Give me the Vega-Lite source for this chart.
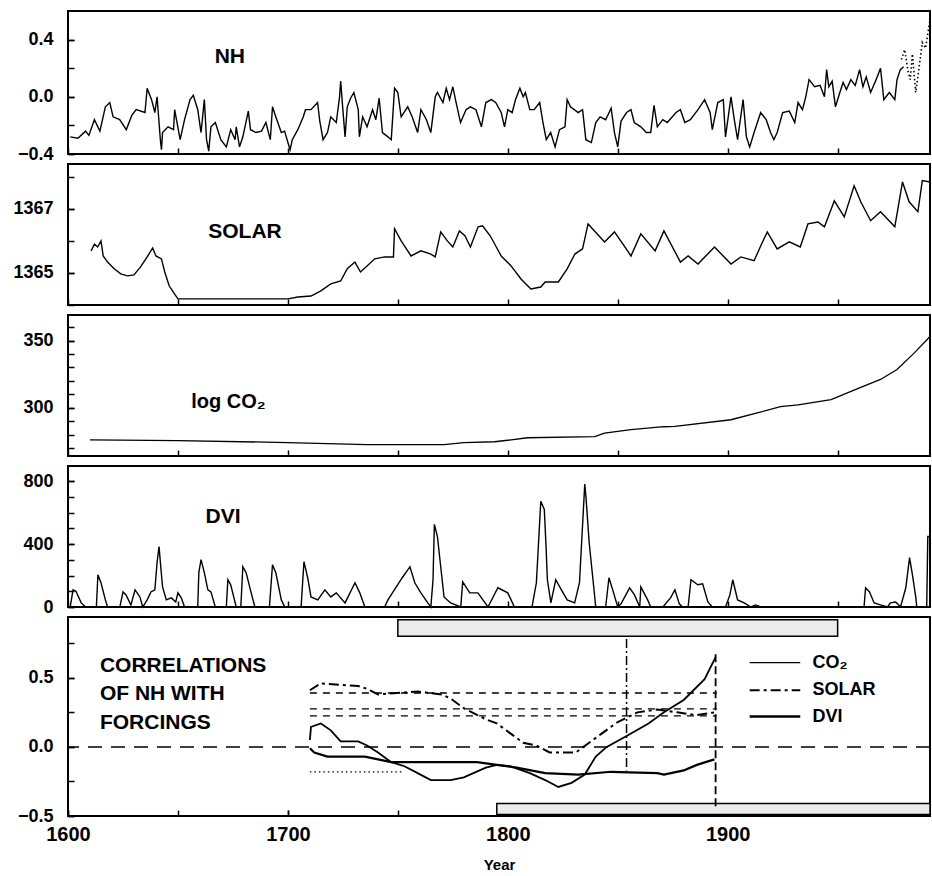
{
 "$schema": "https://vega.github.io/schema/vega-lite/v6.json",
 "background": "white",
 "padding": {"left": 11, "top": 10, "right": 0, "bottom": 0},
 "autosize": {"type": "pad"},
 "bounds": "flush",
 "spacing": 10,
 "config": {
  "font": "Liberation Sans",
  "view": {"stroke": "black", "strokeWidth": 2},
  "axis": {"domain": false, "grid": false, "ticks": true, "tickColor": "black", "tickWidth": 1.5, "tickSize": -6, "tickCount": 30, "labelColor": "black", "labelFont": "Liberation Sans", "labelFontWeight": "bold", "labelFontSize": 18, "labelPadding": 21, "labelFlush": false, "labelOverlap": false},
  "line": {"color": "black", "clip": true},
  "rule": {"color": "black"},
  "text": {"color": "black", "font": "Liberation Sans", "fontWeight": "bold"}
 },
 "datasets": {
  "nh": [
   {"year":1601,"value":-0.28},{"year":1604.5,"value":-0.29},{"year":1608,"value":-0.24},{"year":1609.5,"value":-0.27},{"year":1612,"value":-0.16},{"year":1614.5,"value":-0.24},{"year":1617,"value":-0.07},{"year":1619,"value":-0.04},{"year":1620.5,"value":-0.14},{"year":1623.5,"value":-0.16},{"year":1626.5,"value":-0.23},{"year":1629,"value":-0.13},{"year":1631,"value":-0.09},{"year":1635,"value":-0.11},{"year":1636,"value":0.06},{"year":1638,"value":-0.02},{"year":1639.5,"value":-0.11},{"year":1640.5,"value":0.0},{"year":1642,"value":-0.30},{"year":1642.5,"value":-0.37},{"year":1643,"value":-0.25},{"year":1645.5,"value":-0.21},{"year":1648,"value":-0.23},{"year":1648.5,"value":-0.09},{"year":1651,"value":-0.30},{"year":1653,"value":-0.16},{"year":1655.5,"value":-0.02},{"year":1657,"value":0.01},{"year":1659,"value":-0.09},{"year":1660.5,"value":-0.25},{"year":1662,"value":-0.02},{"year":1663,"value":-0.30},{"year":1664,"value":-0.38},{"year":1665,"value":-0.21},{"year":1667,"value":-0.18},{"year":1669.5,"value":-0.30},{"year":1672,"value":-0.35},{"year":1674,"value":-0.23},{"year":1676,"value":-0.30},{"year":1676.5,"value":-0.21},{"year":1678,"value":-0.35},{"year":1679.5,"value":-0.28},{"year":1682,"value":-0.10},{"year":1683,"value":-0.23},{"year":1685.5,"value":-0.25},{"year":1688,"value":-0.24},{"year":1690,"value":-0.18},{"year":1692,"value":-0.30},{"year":1693,"value":-0.07},{"year":1694.5,"value":-0.14},{"year":1697,"value":-0.25},{"year":1698.5,"value":-0.24},{"year":1700,"value":-0.32},{"year":1701,"value":-0.37},{"year":1702,"value":-0.30},{"year":1704.5,"value":-0.23},{"year":1707,"value":-0.14},{"year":1708,"value":-0.09},{"year":1710.5,"value":-0.09},{"year":1713.5,"value":-0.04},{"year":1714.5,"value":-0.17},{"year":1716,"value":-0.30},{"year":1718,"value":-0.25},{"year":1719.5,"value":-0.14},{"year":1722,"value":-0.18},{"year":1723.5,"value":0.0},{"year":1724,"value":0.11},{"year":1725,"value":-0.09},{"year":1726,"value":-0.28},{"year":1727,"value":-0.07},{"year":1728.5,"value":-0.01},{"year":1730,"value":0.03},{"year":1732,"value":-0.09},{"year":1732.5,"value":-0.28},{"year":1734,"value":-0.14},{"year":1736,"value":-0.21},{"year":1738.5,"value":-0.09},{"year":1740,"value":-0.16},{"year":1741.5,"value":-0.01},{"year":1743,"value":-0.25},{"year":1745.5,"value":-0.28},{"year":1747,"value":-0.30},{"year":1748.5,"value":0.06},{"year":1750,"value":0.03},{"year":1751.5,"value":-0.14},{"year":1754.5,"value":-0.07},{"year":1756.5,"value":-0.14},{"year":1759,"value":-0.25},{"year":1760.5,"value":-0.09},{"year":1763,"value":-0.16},{"year":1765,"value":-0.25},{"year":1767,"value":0.0},{"year":1768,"value":0.03},{"year":1770.5,"value":-0.04},{"year":1772,"value":0.06},{"year":1773.5,"value":-0.02},{"year":1775,"value":0.07},{"year":1776.5,"value":-0.04},{"year":1778.5,"value":-0.18},{"year":1781,"value":-0.09},{"year":1783,"value":-0.07},{"year":1785.5,"value":-0.09},{"year":1788,"value":-0.21},{"year":1790,"value":-0.04},{"year":1792.5,"value":-0.02},{"year":1794.5,"value":-0.04},{"year":1797,"value":-0.11},{"year":1798.5,"value":-0.21},{"year":1800,"value":-0.09},{"year":1802,"value":-0.11},{"year":1803.5,"value":-0.02},{"year":1805.5,"value":0.06},{"year":1807,"value":0.0},{"year":1808,"value":0.03},{"year":1810,"value":-0.09},{"year":1812,"value":-0.09},{"year":1814.5,"value":-0.04},{"year":1816,"value":-0.18},{"year":1817.5,"value":-0.30},{"year":1819.5,"value":-0.25},{"year":1821.5,"value":-0.35},{"year":1823.5,"value":-0.23},{"year":1826,"value":-0.21},{"year":1827,"value":-0.02},{"year":1828.5,"value":-0.07},{"year":1832,"value":-0.11},{"year":1834,"value":-0.09},{"year":1835.5,"value":-0.30},{"year":1838,"value":-0.32},{"year":1840,"value":-0.18},{"year":1842,"value":-0.14},{"year":1844.5,"value":-0.16},{"year":1847,"value":-0.08},{"year":1848.5,"value":-0.25},{"year":1850,"value":-0.35},{"year":1851.5,"value":-0.17},{"year":1854,"value":-0.11},{"year":1856,"value":-0.09},{"year":1857.5,"value":-0.18},{"year":1860.5,"value":-0.21},{"year":1863,"value":-0.25},{"year":1865,"value":-0.25},{"year":1866.5,"value":-0.06},{"year":1868,"value":-0.21},{"year":1870.5,"value":-0.16},{"year":1872.5,"value":-0.18},{"year":1876.5,"value":-0.11},{"year":1878.5,"value":-0.09},{"year":1880.5,"value":-0.18},{"year":1883,"value":-0.16},{"year":1886.5,"value":-0.09},{"year":1889.5,"value":-0.02},{"year":1892,"value":-0.11},{"year":1893,"value":-0.23},{"year":1895.5,"value":-0.04},{"year":1898,"value":-0.02},{"year":1899,"value":-0.28},{"year":1901.5,"value":0.0},{"year":1903,"value":-0.16},{"year":1904.5,"value":-0.30},{"year":1907,"value":-0.02},{"year":1908.5,"value":-0.28},{"year":1910,"value":-0.35},{"year":1912,"value":-0.25},{"year":1915,"value":-0.11},{"year":1917.5,"value":-0.16},{"year":1919.5,"value":-0.25},{"year":1921,"value":-0.30},{"year":1922.5,"value":-0.25},{"year":1925,"value":-0.11},{"year":1928,"value":-0.10},{"year":1930.5,"value":-0.18},{"year":1932,"value":-0.04},{"year":1934,"value":-0.09},{"year":1935.5,"value":0.0},{"year":1937,"value":0.12},{"year":1939.5,"value":0.07},{"year":1942,"value":0.08},{"year":1944,"value":0.0},{"year":1945,"value":0.19},{"year":1946,"value":0.07},{"year":1947.5,"value":0.11},{"year":1949,"value":-0.07},{"year":1951,"value":0.03},{"year":1952.5,"value":0.10},{"year":1954,"value":0.05},{"year":1956,"value":0.12},{"year":1958,"value":0.08},{"year":1960,"value":0.19},{"year":1961.5,"value":0.07},{"year":1963,"value":0.14},{"year":1965,"value":0.03},{"year":1967.5,"value":0.12},{"year":1969.5,"value":0.20},{"year":1971,"value":-0.02},{"year":1973.5,"value":0.03},{"year":1976,"value":-0.02},{"year":1977,"value":0.12},{"year":1978.5,"value":0.19},{"year":1980,"value":0.21}
  ],
  "nh_instr": [
   {"year":1979,"value":0.26},{"year":1980.5,"value":0.33},{"year":1982,"value":0.18},{"year":1983,"value":0.12},{"year":1984,"value":0.3},{"year":1985.5,"value":0.03},{"year":1987,"value":0.2},{"year":1988.5,"value":0.38},{"year":1990,"value":0.34},{"year":1992,"value":0.54}
  ],
  "solar": [
   {"year":1610.5,"value":1365.69},{"year":1612,"value":1365.9},{"year":1613.5,"value":1365.81},{"year":1615,"value":1366.0},{"year":1616,"value":1365.53},{"year":1618,"value":1365.34},{"year":1621,"value":1365.13},{"year":1624,"value":1364.97},{"year":1627,"value":1364.91},{"year":1630,"value":1364.94},{"year":1633,"value":1365.19},{"year":1636,"value":1365.5},{"year":1638.5,"value":1365.78},{"year":1640,"value":1365.53},{"year":1642.5,"value":1365.44},{"year":1644,"value":1365.03},{"year":1646,"value":1364.6},{"year":1648.5,"value":1364.34},{"year":1650,"value":1364.19},{"year":1700,"value":1364.19},{"year":1704.5,"value":1364.25},{"year":1710.5,"value":1364.28},{"year":1715,"value":1364.44},{"year":1719.5,"value":1364.66},{"year":1724,"value":1364.75},{"year":1727,"value":1365.13},{"year":1730.5,"value":1365.34},{"year":1733,"value":1365.03},{"year":1736,"value":1365.22},{"year":1739.5,"value":1365.44},{"year":1744,"value":1365.5},{"year":1748,"value":1365.5},{"year":1748.5,"value":1366.38},{"year":1751.5,"value":1366.0},{"year":1756,"value":1365.53},{"year":1760.5,"value":1365.69},{"year":1765,"value":1365.59},{"year":1767,"value":1365.5},{"year":1769.5,"value":1366.28},{"year":1772.5,"value":1366.0},{"year":1775,"value":1365.81},{"year":1778,"value":1366.31},{"year":1780.5,"value":1366.16},{"year":1783,"value":1365.81},{"year":1786.5,"value":1366.44},{"year":1788.5,"value":1366.47},{"year":1792,"value":1366.16},{"year":1797,"value":1365.53},{"year":1801.5,"value":1365.22},{"year":1806,"value":1364.81},{"year":1810.5,"value":1364.5},{"year":1815,"value":1364.56},{"year":1817,"value":1364.72},{"year":1823,"value":1364.72},{"year":1827,"value":1365.13},{"year":1830.5,"value":1365.59},{"year":1834,"value":1365.75},{"year":1836.5,"value":1366.53},{"year":1841,"value":1366.19},{"year":1844,"value":1365.97},{"year":1848.5,"value":1366.28},{"year":1853,"value":1365.84},{"year":1856,"value":1365.53},{"year":1860.5,"value":1366.22},{"year":1867,"value":1365.69},{"year":1871,"value":1366.31},{"year":1878.5,"value":1365.34},{"year":1882,"value":1365.53},{"year":1886.5,"value":1365.28},{"year":1894,"value":1365.81},{"year":1901.5,"value":1365.28},{"year":1906,"value":1365.5},{"year":1912,"value":1365.38},{"year":1915,"value":1365.84},{"year":1918,"value":1366.28},{"year":1922.5,"value":1365.75},{"year":1928,"value":1365.97},{"year":1933,"value":1365.81},{"year":1936.5,"value":1366.53},{"year":1941,"value":1366.59},{"year":1944,"value":1366.44},{"year":1948.5,"value":1367.25},{"year":1953,"value":1366.75},{"year":1957.5,"value":1367.72},{"year":1960.5,"value":1367.22},{"year":1965,"value":1366.63},{"year":1969.5,"value":1366.91},{"year":1976,"value":1366.44},{"year":1979.5,"value":1367.84},{"year":1982.5,"value":1367.22},{"year":1986.5,"value":1366.91},{"year":1988.5,"value":1367.88},{"year":1992,"value":1367.84}
  ],
  "co2": [
   {"year":1610,"value":276},{"year":1650,"value":275.5},{"year":1700,"value":274},{"year":1736,"value":272.5},{"year":1771,"value":272.5},{"year":1780,"value":273.9},{"year":1794,"value":274.6},{"year":1801.5,"value":276},{"year":1809,"value":277.6},{"year":1839.5,"value":278.4},{"year":1844,"value":281},{"year":1856,"value":283.6},{"year":1871,"value":285.8},{"year":1876,"value":286},{"year":1901.5,"value":291},{"year":1924,"value":300.7},{"year":1932,"value":302},{"year":1947,"value":306},{"year":1958,"value":313.4},{"year":1969.5,"value":321},{"year":1977,"value":328.4},{"year":1985,"value":341},{"year":1992,"value":353}
  ],
  "dvi": [
   {"year":1601,"value":0},{"year":1602.3,"value":109},{"year":1603.6,"value":100},{"year":1606,"value":26},{"year":1608,"value":0},{"year":1612.9,"value":0},{"year":1613.6,"value":205},{"year":1615,"value":154},{"year":1617,"value":45},{"year":1618,"value":0},{"year":1623.6,"value":0},{"year":1625,"value":96},{"year":1626.4,"value":77},{"year":1628.6,"value":13},{"year":1630.5,"value":109},{"year":1632.7,"value":64},{"year":1634,"value":0},{"year":1636,"value":45},{"year":1637.7,"value":96},{"year":1639.5,"value":109},{"year":1640.5,"value":282},{"year":1641.4,"value":384},{"year":1642.3,"value":237},{"year":1643,"value":128},{"year":1644.7,"value":45},{"year":1647,"value":58},{"year":1649,"value":32},{"year":1650,"value":90},{"year":1651.5,"value":58},{"year":1653,"value":0},{"year":1659,"value":0},{"year":1659.5,"value":218},{"year":1660.5,"value":301},{"year":1662,"value":218},{"year":1663.6,"value":109},{"year":1665,"value":96},{"year":1667,"value":0},{"year":1672,"value":0},{"year":1672.7,"value":173},{"year":1674,"value":141},{"year":1676.5,"value":0},{"year":1678.6,"value":0},{"year":1679.5,"value":256},{"year":1681,"value":218},{"year":1683.3,"value":90},{"year":1685,"value":0},{"year":1691.6,"value":0},{"year":1693,"value":269},{"year":1694.5,"value":218},{"year":1697,"value":45},{"year":1698.6,"value":0},{"year":1706,"value":0},{"year":1707.3,"value":288},{"year":1709,"value":186},{"year":1710.5,"value":64},{"year":1713.6,"value":45},{"year":1716.8,"value":109},{"year":1719.5,"value":64},{"year":1722,"value":90},{"year":1726,"value":26},{"year":1730.5,"value":154},{"year":1732.7,"value":90},{"year":1735,"value":0},{"year":1744,"value":0},{"year":1745.5,"value":45},{"year":1752,"value":186},{"year":1755.5,"value":256},{"year":1757.7,"value":154},{"year":1760.5,"value":90},{"year":1763.6,"value":26},{"year":1765,"value":0},{"year":1766,"value":173},{"year":1766.6,"value":525},{"year":1768,"value":448},{"year":1769.5,"value":256},{"year":1771,"value":64},{"year":1774,"value":26},{"year":1778.6,"value":0},{"year":1779.5,"value":160},{"year":1782.7,"value":90},{"year":1786.4,"value":90},{"year":1791,"value":0},{"year":1795.5,"value":122},{"year":1800,"value":90},{"year":1803,"value":0},{"year":1811,"value":0},{"year":1813,"value":154},{"year":1815,"value":672},{"year":1816.6,"value":620},{"year":1817.4,"value":384},{"year":1818,"value":173},{"year":1819.6,"value":26},{"year":1821.8,"value":173},{"year":1823.6,"value":128},{"year":1827,"value":45},{"year":1830.4,"value":26},{"year":1832.6,"value":154},{"year":1835,"value":781},{"year":1835.6,"value":690},{"year":1837,"value":410},{"year":1838.6,"value":192},{"year":1840,"value":0},{"year":1844.5,"value":0},{"year":1846,"value":186},{"year":1847.7,"value":109},{"year":1850,"value":0},{"year":1851.5,"value":20},{"year":1855.4,"value":122},{"year":1857.6,"value":77},{"year":1860,"value":0},{"year":1860.5,"value":128},{"year":1863.6,"value":45},{"year":1865,"value":0},{"year":1870.5,"value":0},{"year":1874,"value":58},{"year":1876,"value":109},{"year":1878,"value":20},{"year":1879.5,"value":0},{"year":1882,"value":0},{"year":1883.3,"value":173},{"year":1886.4,"value":141},{"year":1888.6,"value":147},{"year":1891,"value":32},{"year":1893,"value":0},{"year":1899,"value":0},{"year":1901,"value":77},{"year":1902.3,"value":173},{"year":1904.5,"value":45},{"year":1907.5,"value":26},{"year":1910.5,"value":0},{"year":1912.7,"value":13},{"year":1915,"value":0},{"year":1962,"value":0},{"year":1962.7,"value":122},{"year":1964.5,"value":96},{"year":1966.6,"value":26},{"year":1969.5,"value":13},{"year":1972.7,"value":0},{"year":1974,"value":26},{"year":1976.4,"value":32},{"year":1978.6,"value":0},{"year":1981,"value":122},{"year":1982.7,"value":314},{"year":1984,"value":205},{"year":1985.5,"value":64},{"year":1986,"value":0},{"year":1990.5,"value":0},{"year":1991,"value":448},{"year":1992,"value":448}
  ],
  "corr": [
   {"series":"CO2","year":1710,"r":0.05},{"series":"CO2","year":1710.5,"r":0.145},{"series":"CO2","year":1715,"r":0.17},{"series":"CO2","year":1719.5,"r":0.12},{"series":"CO2","year":1724,"r":0.04},{"series":"CO2","year":1732,"r":0.04},{"series":"CO2","year":1736,"r":0.01},{"series":"CO2","year":1741,"r":-0.04},{"series":"CO2","year":1747,"r":-0.11},{"series":"CO2","year":1753,"r":-0.14},{"series":"CO2","year":1759,"r":-0.19},{"series":"CO2","year":1765,"r":-0.24},{"series":"CO2","year":1774,"r":-0.24},{"series":"CO2","year":1780,"r":-0.22},{"series":"CO2","year":1790,"r":-0.15},{"series":"CO2","year":1795,"r":-0.13},{"series":"CO2","year":1801,"r":-0.14},{"series":"CO2","year":1810,"r":-0.19},{"series":"CO2","year":1817,"r":-0.24},{"series":"CO2","year":1823,"r":-0.29},{"series":"CO2","year":1829,"r":-0.26},{"series":"CO2","year":1835,"r":-0.20},{"series":"CO2","year":1840,"r":-0.07},{"series":"CO2","year":1845,"r":0.0},{"series":"CO2","year":1853,"r":0.07},{"series":"CO2","year":1864,"r":0.17},{"series":"CO2","year":1871,"r":0.25},{"series":"CO2","year":1880,"r":0.34},{"series":"CO2","year":1889.5,"r":0.49},{"series":"CO2","year":1894.5,"r":0.65},
   {"series":"DVI","year":1710,"r":-0.01},{"series":"DVI","year":1712,"r":-0.04},{"series":"DVI","year":1718,"r":-0.07},{"series":"DVI","year":1735,"r":-0.07},{"series":"DVI","year":1741,"r":-0.09},{"series":"DVI","year":1747,"r":-0.11},{"series":"DVI","year":1786,"r":-0.11},{"series":"DVI","year":1795,"r":-0.13},{"series":"DVI","year":1804,"r":-0.15},{"series":"DVI","year":1817,"r":-0.19},{"series":"DVI","year":1832,"r":-0.20},{"series":"DVI","year":1847,"r":-0.18},{"series":"DVI","year":1868,"r":-0.19},{"series":"DVI","year":1871,"r":-0.20},{"series":"DVI","year":1880,"r":-0.17},{"series":"DVI","year":1886,"r":-0.13},{"series":"DVI","year":1894,"r":-0.09},
   {"series":"SOLAR","year":1710,"r":0.41},{"series":"SOLAR","year":1715,"r":0.46},{"series":"SOLAR","year":1732,"r":0.44},{"series":"SOLAR","year":1736,"r":0.42},{"series":"SOLAR","year":1741,"r":0.38},{"series":"SOLAR","year":1759,"r":0.40},{"series":"SOLAR","year":1770,"r":0.38},{"series":"SOLAR","year":1774,"r":0.35},{"series":"SOLAR","year":1780,"r":0.28},{"series":"SOLAR","year":1790,"r":0.20},{"series":"SOLAR","year":1795,"r":0.17},{"series":"SOLAR","year":1801,"r":0.10},{"series":"SOLAR","year":1807,"r":0.03},{"series":"SOLAR","year":1813,"r":0.01},{"series":"SOLAR","year":1819,"r":-0.04},{"series":"SOLAR","year":1825,"r":-0.04},{"series":"SOLAR","year":1831,"r":-0.04},{"series":"SOLAR","year":1837,"r":0.03},{"series":"SOLAR","year":1843,"r":0.10},{"series":"SOLAR","year":1850,"r":0.18},{"series":"SOLAR","year":1859,"r":0.25},{"series":"SOLAR","year":1868,"r":0.27},{"series":"SOLAR","year":1877,"r":0.25},{"series":"SOLAR","year":1886,"r":0.23},{"series":"SOLAR","year":1894,"r":0.25}
  ],
  "levels": [
   {"kind":"dashed","start":1710,"end":1895,"r":0.39},{"kind":"dashed","start":1710,"end":1895,"r":0.275},{"kind":"dashed","start":1710,"end":1895,"r":0.225},{"kind":"dotted","start":1710,"end":1752,"r":-0.18}
  ],
  "windows": [
   {"start":1750,"end":1950,"lo":0.80,"hi":0.92},{"start":1795,"end":1992,"lo":-0.49,"hi":-0.41}
  ]
 },
 "vconcat": [
  {
   "width": 862, "height": 143,
   "resolve": {"axis": {"y": "independent"}},
   "layer": [
    {"data": {"name": "nh"}, "mark": {"type": "line", "strokeWidth": 1.4},
     "encoding": {
      "x": {"field": "year", "type": "quantitative", "title": null, "scale": {"domain": [1600, 1992], "nice": false, "zero": false}, "axis": {"values": [1600,1650,1700,1750,1800,1850,1900,1950], "labels": false}},
      "y": {"field": "value", "type": "quantitative", "title": null, "scale": {"domain": [-0.4, 0.6], "nice": false, "zero": false}, "axis": {"orient": "left", "values": [-0.4,-0.2,0,0.2,0.4], "labels": false}}
     }},
    {"data": {"name": "nh_instr"}, "mark": {"type": "line", "strokeWidth": 1.6, "strokeDash": [1.5, 2.5]},
     "encoding": {"x": {"field": "year", "type": "quantitative"}, "y": {"field": "value", "type": "quantitative", "axis": null}}},
    {"data": {"values": [{}]}, "mark": {"type": "text", "text": "NH", "fontSize": 21, "align": "center", "baseline": "middle"},
     "encoding": {"x": {"datum": 1673.6}, "y": {"datum": 0.28, "title": null, "axis": {"orient": "left", "values": [-0.4, 0, 0.4], "format": ".1f"}}}}
   ]
  },
  {
   "width": 862, "height": 141,
   "resolve": {"axis": {"y": "independent"}},
   "layer": [
    {"data": {"name": "solar"}, "mark": {"type": "line", "strokeWidth": 1.4},
     "encoding": {
      "x": {"field": "year", "type": "quantitative", "title": null, "scale": {"domain": [1600, 1992], "nice": false, "zero": false}, "axis": {"values": [1600,1650,1700,1750,1800,1850,1900,1950], "labels": false}},
      "y": {"field": "value", "type": "quantitative", "title": null, "scale": {"domain": [1364, 1368.4], "nice": false, "zero": false}, "axis": {"orient": "left", "values": [1364,1365,1366,1367,1368], "labels": false}}
     }},
    {"data": {"values": [{}]}, "mark": {"type": "text", "text": "SOLAR", "fontSize": 21, "align": "center", "baseline": "middle"},
     "encoding": {"x": {"datum": 1680.5}, "y": {"datum": 1366.28, "title": null, "axis": {"orient": "left", "values": [1365, 1367], "format": "d"}}}}
   ]
  },
  {
   "width": 862, "height": 141,
   "resolve": {"axis": {"y": "independent"}},
   "layer": [
    {"data": {"name": "co2"}, "mark": {"type": "line", "strokeWidth": 1.3},
     "encoding": {
      "x": {"field": "year", "type": "quantitative", "title": null, "scale": {"domain": [1600, 1992], "nice": false, "zero": false}, "axis": {"values": [1600,1650,1700,1750,1800,1850,1900,1950], "labels": false}},
      "y": {"field": "value", "type": "quantitative", "title": null, "scale": {"domain": [264, 369], "nice": false, "zero": false}, "axis": {"orient": "left", "values": [270,280,290,300,310,320,330,340,350,360], "labels": false}}
     }},
    {"data": {"values": [{}]}, "mark": {"type": "text", "text": "log CO₂", "fontSize": 20, "align": "center", "baseline": "middle"},
     "encoding": {"x": {"datum": 1673}, "y": {"datum": 304.5, "title": null, "axis": {"orient": "left", "values": [300, 350], "format": "d"}}}}
   ]
  },
  {
   "width": 862, "height": 141,
   "resolve": {"axis": {"y": "independent"}},
   "layer": [
    {"data": {"name": "dvi"}, "mark": {"type": "line", "strokeWidth": 1.4},
     "encoding": {
      "x": {"field": "year", "type": "quantitative", "title": null, "scale": {"domain": [1600, 1992], "nice": false, "zero": false}, "axis": {"values": [1600,1650,1700,1750,1800,1850,1900,1950], "labels": false}},
      "y": {"field": "value", "type": "quantitative", "title": null, "scale": {"domain": [0, 896], "nice": false, "zero": false}, "axis": {"orient": "left", "values": [0,100,200,300,400,500,600,700,800], "labels": false}}
     }},
    {"data": {"values": [{}]}, "mark": {"type": "text", "text": "DVI", "fontSize": 21, "align": "center", "baseline": "middle"},
     "encoding": {"x": {"datum": 1670.5}, "y": {"datum": 570, "title": null, "axis": {"orient": "left", "values": [0, 400, 800], "format": "d"}}}}
   ]
  },
  {
   "width": 862, "height": 199,
   "resolve": {"axis": {"x": "independent", "y": "independent"}},
   "layer": [
    {"data": {"name": "windows"}, "mark": {"type": "rect", "fill": "#ececec", "stroke": "black", "strokeWidth": 1.5, "clip": true},
     "encoding": {
      "x": {"field": "start", "type": "quantitative", "title": null, "scale": {"domain": [1600, 1992], "nice": false, "zero": false}, "axis": {"orient": "bottom", "values": [1600,1650,1700,1750,1800,1850,1900,1950], "labels": false}},
      "x2": {"field": "end"},
      "y": {"field": "lo", "type": "quantitative", "title": null, "scale": {"domain": [-0.5, 0.94], "nice": false, "zero": false}, "axis": {"orient": "left", "values": [-0.5,-0.25,0,0.25,0.5,0.75], "labels": false}},
      "y2": {"field": "hi"}
     }},
    {"data": {"values": [{}]}, "mark": {"type": "rule", "strokeWidth": 1.5, "strokeDash": [14, 9]},
     "encoding": {"y": {"datum": 0, "axis": null}}},
    {"data": {"name": "levels"}, "transform": [{"filter": "datum.kind == 'dashed'"}], "mark": {"type": "rule", "strokeWidth": 1.3, "strokeDash": [7, 6]},
     "encoding": {"x": {"field": "start", "type": "quantitative", "axis": null}, "x2": {"field": "end"}, "y": {"field": "r", "type": "quantitative", "axis": null}}},
    {"data": {"name": "levels"}, "transform": [{"filter": "datum.kind == 'dotted'"}], "mark": {"type": "rule", "strokeWidth": 1.3, "strokeDash": [1.5, 3]},
     "encoding": {"x": {"field": "start", "type": "quantitative", "axis": null}, "x2": {"field": "end"}, "y": {"field": "r", "type": "quantitative", "axis": null}}},
    {"data": {"values": [{}]}, "mark": {"type": "rule", "strokeWidth": 1.5, "strokeDash": [9, 3, 2, 3]},
     "encoding": {"x": {"datum": 1854, "axis": null}, "y": {"datum": 0.78, "axis": null}, "y2": {"datum": -0.17}}},
    {"data": {"values": [{}]}, "mark": {"type": "rule", "strokeWidth": 1.8, "strokeDash": [8, 4]},
     "encoding": {"x": {"datum": 1894.5, "axis": null}, "y": {"datum": 0.67, "axis": null}, "y2": {"datum": -0.43}}},
    {"data": {"name": "corr"}, "transform": [{"filter": "datum.series == 'SOLAR'"}], "mark": {"type": "line", "strokeWidth": 2, "strokeDash": [10, 4, 3, 4]},
     "encoding": {"x": {"field": "year", "type": "quantitative", "axis": null}, "y": {"field": "r", "type": "quantitative", "axis": null}}},
    {"data": {"name": "corr"}, "transform": [{"filter": "datum.series == 'DVI'"}], "mark": {"type": "line", "strokeWidth": 2.2},
     "encoding": {"x": {"field": "year", "type": "quantitative", "axis": null}, "y": {"field": "r", "type": "quantitative", "axis": null}}},
    {"data": {"name": "corr"}, "transform": [{"filter": "datum.series == 'CO2'"}], "mark": {"type": "line", "strokeWidth": 1.8},
     "encoding": {"x": {"field": "year", "type": "quantitative", "axis": null}, "y": {"field": "r", "type": "quantitative", "axis": null}}},
    {"data": {"values": [{}]}, "mark": {"type": "rule", "strokeWidth": 1.2},
     "encoding": {"x": {"datum": 1910, "axis": null}, "x2": {"datum": 1933}, "y": {"datum": 0.61, "axis": null}}},
    {"data": {"values": [{}]}, "mark": {"type": "rule", "strokeWidth": 2.2, "strokeDash": [10, 4, 3, 4]},
     "encoding": {"x": {"datum": 1910, "axis": null}, "x2": {"datum": 1933}, "y": {"datum": 0.41, "axis": null}}},
    {"data": {"values": [{}]}, "mark": {"type": "rule", "strokeWidth": 2.5},
     "encoding": {"x": {"datum": 1910, "axis": null}, "x2": {"datum": 1933}, "y": {"datum": 0.22, "axis": null}}},
    {"data": {"values": [{}]}, "mark": {"type": "text", "text": "CO₂", "fontSize": 18, "align": "left", "baseline": "middle"},
     "encoding": {"x": {"datum": 1938.6, "axis": null}, "y": {"datum": 0.61, "axis": null}}},
    {"data": {"values": [{}]}, "mark": {"type": "text", "text": "SOLAR", "fontSize": 18, "align": "left", "baseline": "middle"},
     "encoding": {"x": {"datum": 1938.6, "axis": null}, "y": {"datum": 0.41, "axis": null}}},
    {"data": {"values": [{}]}, "mark": {"type": "text", "text": "DVI", "fontSize": 18, "align": "left", "baseline": "middle"},
     "encoding": {"x": {"datum": 1938.6, "axis": null}, "y": {"datum": 0.22, "axis": null}}},
    {"data": {"values": [{}]}, "mark": {"type": "text", "text": ["CORRELATIONS", "OF NH WITH", "FORCINGS"], "fontSize": 21, "lineHeight": 28.5, "align": "left", "baseline": "middle"},
     "encoding": {
      "x": {"datum": 1614.5, "axis": {"orient": "bottom", "title": "Year", "values": [1600, 1700, 1800, 1900], "format": "d", "labelFontSize": 20, "labelPadding": 14, "titleFont": "Liberation Sans", "titleFontSize": 15, "titleFontWeight": "bold", "titleColor": "black", "titlePadding": 13}},
      "y": {"datum": 0.587, "title": null, "axis": {"orient": "left", "values": [-0.5, 0, 0.5], "format": ".1f"}}
     }}
   ]
  }
 ]
}
